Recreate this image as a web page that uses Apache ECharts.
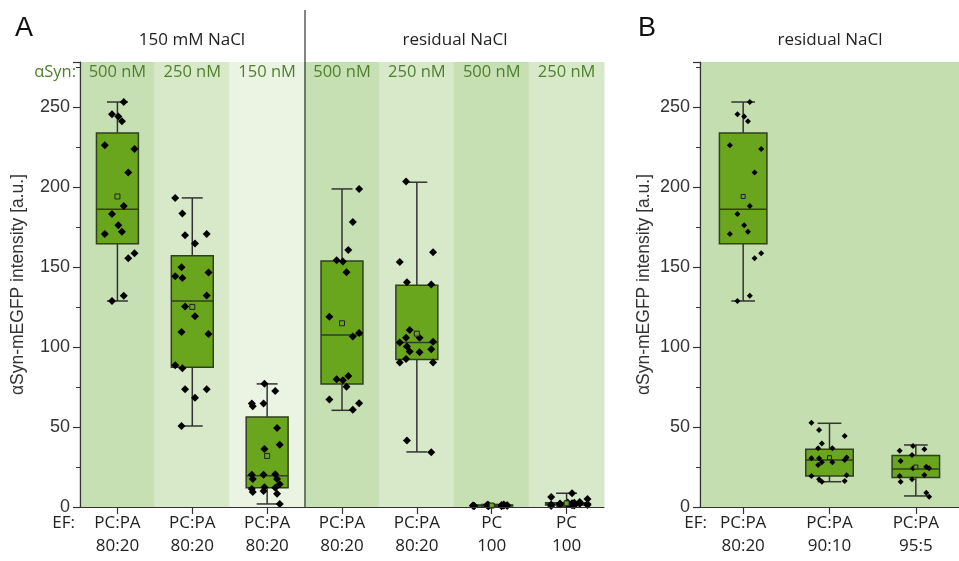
<!DOCTYPE html>
<html><head><meta charset="utf-8">
<script src="https://cdn.jsdelivr.net/npm/echarts@6/dist/echarts.min.js"></script>
<style>html,body{margin:0;padding:0;background:#fff}#c{width:959px;height:561px}</style>
</head><body><div id="c"></div>
<script>
// ---------- data ----------
const catsA = ['PC:PA\n80:20','PC:PA\n80:20','PC:PA\n80:20','PC:PA\n80:20','PC:PA\n80:20','PC\n100','PC\n100'];
const concA = ['500 nM','250 nM','150 nM','500 nM','250 nM','500 nM','250 nM'];
const catsB = ['PC:PA\n80:20','PC:PA\n90:10','PC:PA\n95:5'];
const yTicks = [0,50,100,150,200,250];

// individual measurements
const pA1 = [253,245.4,244,241,226,223.7,209,188,183,176,172,170.6,158.5,155.4,131.9,128.7];
const pA2 = [193.1,183.3,170.6,169.8,164.6,149.8,146.5,144.2,143.1,132.1,125.2,119.2,109.4,108.1,88.5,86.7,73.5,73.5,68.3,50.6];
const pA3 = [77,72.5,64.6,64.6,62.9,49.4,38.9,36.2,20.4,20.2,20.2,17.5,17.5,14.2,12.3,12,11.2,10,9.4,8.3,1.9];
const pA4 = [198.7,178,160.6,154.2,153.3,146.7,118.8,108.7,106.5,81.9,79.8,79.2,75.2,67.1,64.8,60.8];
const pA5 = [203.3,159.2,153.1,140.4,139,110.6,105.8,105.8,103.3,102.7,100.2,98.5,97.1,96.7,92.5,90.2,90.2,41.5,34.2];
const pA6 = [1.6,0.8,1.2,0.5,1.0,1.4,0.7,0.9,1.1,0.4,1.3,0.8,1.0,0.6,1.2,0.9,0.7];
const pA7 = [8.6,6.2,5.0,3.1,2.6,2.2,1.8,2.4,1.5,1.2,2.0,0.9,1.6,2.8,1.1,0.7,1.9,2.3,1.4];
const pB2 = [52.7,48.1,44.4,39.6,36.7,36.7,31,30.4,30.4,29.4,27.9,27.9,26.2,19.8,19.4,17.3,16.2,15.8];
const pB3 = [38.1,36,35.2,32.5,28.7,25.2,24.2,24.2,20,19.4,17.3,15.8,8.9,6.4];

// box statistics [min, Q1, median, Q3, max]
const bA1 = [128.7,164.4,186,233.7,253];
const bA2 = [50.6,87.3,128.7,157,193.1];
const bA3 = [1.9,12.1,19.6,56.2,76.9];
const bA4 = [60.4,76.9,107.5,153.7,198.7];
const bA5 = [34.4,92.1,102.7,138.5,202.9];
const bA6 = [0.3,0.6,0.9,1.2,1.6];
const bA7 = [0.5,1.2,1.8,2.6,8.6];
const bB2 = [15.8,19.4,29.4,36,52.3];
const bB3 = [6.9,18.5,23.75,32.1,38.75];

// means
const meansA = [194,125,31.9,114.8,108.3,0.9,2.3];
const meansB = [194,30.8,25];

const pointsA = [pA1,pA2,pA3,pA4,pA5,pA6,pA7];
const boxesA = [bA1,bA2,bA3,bA4,bA5,bA6,bA7];
const pointsB = [pA1,pB2,pB3];   // panel B first group = same dataset as A1
const boxesB = [bA1,bB2,bB3];

// ---------- styles ----------
const YMAX = 278;
const bandColorsA = ['#c6dfb3','#d8e9ca','#ebf3e3','#c6dfb3','#d8e9ca','#c6dfb3','#d8e9ca'];
const bandColorB = '#c5deb0';
const JIT = [0.35,-0.8,0.9,-0.3,0.55,-0.95,0.05,0.7,-0.55,0.25,-0.15,0.8,-0.7,0.45,-0.4,0.95,-0.85,0.15,0.6,-0.2,-0.6];
const BOX_FILL = '#6aa51e', BOX_LINE = '#2f3f22', WH = '#333';
const textFont = '"Open Sans", sans-serif';
const numFont = '"Liberation Sans", Arial, sans-serif';

function bandRender(colors){
  return function(params, api){
    const i = api.value(0);
    const top = api.coord([i, YMAX]);
    const bot = api.coord([i, 0]);
    const w = api.size([1, 0])[0];
    return {type:'rect', shape:{x: top[0]-w/2-0.5, y: top[1], width: w+1, height: bot[1]-top[1]}, style:{fill: colors[i]}};
  };
}
function boxRender(frac, capFrac){
  return function(params, api){
    const i = api.value(0);
    const x = api.coord([i, 0])[0];
    const cw = api.size([1, 0])[0];
    const bw = cw*frac, cap = bw*capFrac;
    const y = [1,2,3,4,5].map(k => api.coord([i, api.value(k)])[1]);
    const ls = {stroke: WH, lineWidth: 1.5};
    return {type:'group', children:[
      {type:'line', shape:{x1:x, y1:y[4], x2:x, y2:y[3]}, style:ls},
      {type:'line', shape:{x1:x, y1:y[1], x2:x, y2:y[0]}, style:ls},
      {type:'line', shape:{x1:x-cap/2, y1:y[4], x2:x+cap/2, y2:y[4]}, style:ls},
      {type:'line', shape:{x1:x-cap/2, y1:y[0], x2:x+cap/2, y2:y[0]}, style:ls},
      {type:'rect', shape:{x:x-bw/2, y:y[3], width:bw, height:Math.max(y[1]-y[3],0.5)}, style:{fill:BOX_FILL, stroke:BOX_LINE, lineWidth:1.5}},
      {type:'line', shape:{x1:x-bw/2, y1:y[2], x2:x+bw/2, y2:y[2]}, style:{stroke:BOX_LINE, lineWidth:1.5}}
    ]};
  };
}
function pointRender(jit, r){
  return function(params, api){
    const i = api.value(0);
    const c = api.coord([i, api.value(1)]);
    const j = api.value(2);
    const spread = (typeof jit === 'function') ? jit(i) : jit;
    const x = c[0] + JIT[(j*3 + i*5) % JIT.length]*spread;
    const y = c[1];
    return {type:'polygon', shape:{points:[[x, y-r],[x+r, y],[x, y+r],[x-r, y]]}, style:{fill:'#000'}};
  };
}
function meanRender(s){
  return function(p, api){
    const c = api.coord([api.value(0), api.value(1)]);
    return {type:'rect', shape:{x:c[0]-s/2, y:c[1]-s/2, width:s, height:s}, style:{fill:BOX_FILL, stroke:'#222', lineWidth:1}};
  };
}
function flatPoints(groups){
  const out = [];
  groups.forEach((g, i) => g.forEach((v, j) => out.push([i, v, j])));
  return out;
}
function boxData(boxes){
  return boxes.map((b, i) => [i].concat(b));
}

const catLabel = {fontFamily: textFont, fontSize: 17, color: '#222', lineHeight: 23, margin: 5, interval: 0, hideOverlap: false};
const yLabel = {fontFamily: numFont, fontSize: 18, color: '#333', margin: 10, showMaxLabel: false};
const yAxisBase = {
  type:'value', min:0, max:YMAX, interval:50,
  axisLine:{show:true, lineStyle:{color:'#333', width:1.2}},
  axisTick:{show:true, length:7, lineStyle:{color:'#333', width:1.2}},
  minorTick:{show:true, splitNumber:2, length:4, lineStyle:{color:'#333'}},
  splitLine:{show:true, showMinLine:false, showMaxLine:false, lineStyle:{color:'#6f6f6f', type:[3,3], width:1}},
  axisLabel: yLabel,
  name:'αSyn-mEGFP intensity [a.u.]', nameLocation:'middle',
  nameTextStyle:{fontFamily:numFont, fontSize:17.5, color:'#333'}
};

const chart = echarts.init(document.getElementById('c'), null, {renderer:'canvas'});
chart.setOption({
  animation:false,
  backgroundColor:'#fff',
  grid:[
    {left:80, top:62, width:524, height:445},
    {left:700, top:62, width:264, height:445}
  ],
  xAxis:[
    {type:'category', gridIndex:0, data:catsA, boundaryGap:true,
     axisLine:{show:true, lineStyle:{color:'#333', width:1.2}},
     axisTick:{show:true, alignWithLabel:true, interval:0, length:7, lineStyle:{color:'#333', width:1.2}},
     axisLabel:catLabel, z:10},
    {type:'category', gridIndex:0, data:concA, position:'top', boundaryGap:true,
     axisLine:{show:false}, axisTick:{show:false},
     axisLabel:{inside:true, interval:0, hideOverlap:false, margin:2, verticalAlign:'top', fontFamily:textFont, fontSize:16.5, color:'#4e7f2c'}},
    {type:'category', gridIndex:1, data:catsB, boundaryGap:true,
     axisLine:{show:true, lineStyle:{color:'#333', width:1.2}},
     axisTick:{show:true, alignWithLabel:true, interval:0, length:7, lineStyle:{color:'#333', width:1.2}},
     axisLabel:catLabel, z:10}
  ],
  yAxis:[
    Object.assign({}, yAxisBase, {gridIndex:0, nameGap:53}),
    Object.assign({}, yAxisBase, {gridIndex:1, nameGap:47})
  ],
  series:[
    {type:'custom', xAxisIndex:0, yAxisIndex:0, z:0, silent:true,
     data: catsA.map((c,i)=>[i,0]), encode:{x:0,y:1}, renderItem: bandRender(bandColorsA)},
    {type:'custom', xAxisIndex:2, yAxisIndex:1, z:0, silent:true,
     data: catsB.map((c,i)=>[i,0]), encode:{x:0,y:1}, renderItem: bandRender(catsB.map(()=>bandColorB))},
    {type:'custom', xAxisIndex:0, yAxisIndex:0, z:3,
     data: boxData(boxesA), encode:{x:0, y:[1,2,3,4,5]}, renderItem: boxRender(0.56, 0.5)},
    {type:'custom', xAxisIndex:2, yAxisIndex:1, z:3,
     data: boxData(boxesB), encode:{x:0, y:[1,2,3,4,5]}, renderItem: boxRender(0.55, 0.5)},
    {type:'custom', xAxisIndex:0, yAxisIndex:0, z:4,
     data: flatPoints(pointsA), encode:{x:0,y:1}, renderItem: pointRender(i => i >= 5 ? 22 : 18, 4)},
    {type:'custom', xAxisIndex:2, yAxisIndex:1, z:4,
     data: flatPoints(pointsB), encode:{x:0,y:1}, renderItem: pointRender(19, 3)},
    {type:'custom', xAxisIndex:0, yAxisIndex:0, z:5,
     data: meansA.map((m,i)=>[i,m]), encode:{x:0,y:1}, renderItem: meanRender(5)},
    {type:'custom', xAxisIndex:2, yAxisIndex:1, z:5,
     data: meansB.map((m,i)=>[i,m]), encode:{x:0,y:1}, renderItem: meanRender(4)}
  ],
  graphic:[
    {type:'text', x:15, y:15, style:{text:'A', font:'27px "Liberation Sans", Arial, sans-serif', fill:'#111'}},
    {type:'text', x:192, y:40, style:{text:'150 mM NaCl', font:'17px "Open Sans", sans-serif', fill:'#222', textAlign:'center', textVerticalAlign:'middle'}},
    {type:'text', x:455, y:40, style:{text:'residual NaCl', font:'17px "Open Sans", sans-serif', fill:'#222', textAlign:'center', textVerticalAlign:'middle'}},
    {type:'line', shape:{x1:305, y1:10, x2:305, y2:507}, style:{stroke:'#333', lineWidth:1.2}, z:20},
    {type:'text', x:76, y:72, style:{text:'αSyn:', font:'16.5px "Open Sans", sans-serif', fill:'#4e7f2c', textAlign:'right', textVerticalAlign:'middle'}},
    {type:'text', x:75, y:523, style:{text:'EF:', font:'17px "Open Sans", sans-serif', fill:'#222', textAlign:'right', textVerticalAlign:'middle'}},
    {type:'text', x:638, y:15, style:{text:'B', font:'27px "Liberation Sans", Arial, sans-serif', fill:'#111'}},
    {type:'text', x:830, y:40, style:{text:'residual NaCl', font:'17px "Open Sans", sans-serif', fill:'#222', textAlign:'center', textVerticalAlign:'middle'}},
    {type:'text', x:832, y:72, style:{text:'αSyn: 500 nM', font:'16.5px "Open Sans", sans-serif', fill:'#4e7f2c', textAlign:'center', textVerticalAlign:'middle'}},
    {type:'text', x:707, y:523, style:{text:'EF:', font:'17px "Open Sans", sans-serif', fill:'#222', textAlign:'right', textVerticalAlign:'middle'}}
  ]
});
</script></body></html>
